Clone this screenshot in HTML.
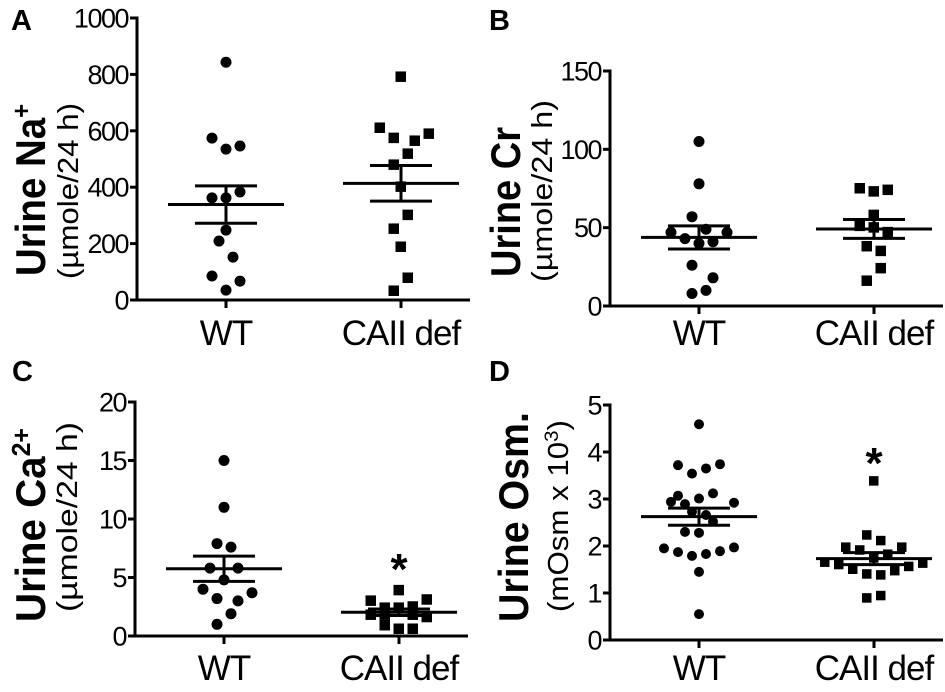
<!DOCTYPE html>
<html><head><meta charset="utf-8"><style>
html,body{margin:0;padding:0;background:#fff;}
svg{display:block;font-family:"Liberation Sans",Arial,sans-serif;}
</style></head><body>
<svg id="fig" width="945" height="692" viewBox="0 0 945 692"></svg>
<script>
const categories = ["WT", "CAII def"];
// Panel A: Urine Na+
const naWT = [843,574,546,535,362,362,383,248,209,152,85,67,35];
const naWTJit = [0,-2,2,0,-2,0,2,0,-1,1,-2,2,0];
const naCA = [791,610,574,564,589,518,479,401,301,252,188,78,32];
const naCAJit = [0,-3,-1,2,4,1,-1,0,1,-1,0,1,-1];
const naTicks = [0,200,400,600,800,1000];
// Panel B: Urine Cr
const crWT = [105,78,57,47,49,47,43,40,41,26,18,10,8];
const crWTJit = [0,0,-1,-4,1,4,-2,0,2,-1,2,1,-1];
const crCA = [75,73,74,58,51,47,38,35,24,16,50];
const crCAJit = [-2,0,2,0,-2,2,-1,1,1,-1,0];
const crTicks = [0,50,100,150];
// Panel C: Urine Ca2+
const caWT = [15,11,7.9,7.6,5.8,5.8,4.8,4.0,3.7,3.2,3.0,1.9,1.0];
const caWTJit = [0,0,-1,1,-2,2,0,-3,4,-1,2,1,-1];
const caCA = [3.9,3.0,3.1,2.4,2.4,2.5,1.8,1.6,0.9,0.6,0.6,1.8,1.8];
const caCAJit = [0,-4,4,-2,0,2,-4,4,-2,0,2,2,-2];
const caTicks = [0,5,10,15,20];
// Panel D: Urine Osm
const osWT = [4.59,3.72,3.74,3.65,3.54,3.07,3.12,3.01,2.94,2.92,2.89,2.66,2.73,2.52,2.30,2.28,1.95,1.87,1.79,1.83,1.89,1.97,1.45,0.55];
const osWTJit = [0,-3,3,1,-1,-3,2,0,-4,5,-2,1,-1,2,-2,0,-5,-3,-1,1,3,5,0,0];
const osCA = [3.38,2.23,2.11,1.97,1.91,1.97,1.82,1.74,1.65,1.60,1.50,1.40,1.38,1.47,1.56,1.63,0.89,0.94];
const osCAJit = [0,-1,1,-4,-2,4,2,0,-7,-5,-3,-1,1,3,5,7,-1,1];
const osTicks = [0,1,2,3,4,5];

const NS = "http://www.w3.org/2000/svg";
const svg = document.getElementById("fig");
function mk(tag, attrs, parent, text){
  const e = document.createElementNS(NS, tag);
  for (const k in attrs) e.setAttribute(k, attrs[k]);
  if (text !== undefined) e.textContent = text;
  (parent || svg).appendChild(e);
  return e;
}
function stats(a){
  const n=a.length, m=a.reduce((s,v)=>s+v,0)/n;
  const sd=Math.sqrt(a.reduce((s,v)=>s+(v-m)*(v-m),0)/(n-1));
  return [m, sd/Math.sqrt(n)];
}
function panel(o){
  const g = mk("g", {});
  
  
  const y = v => o.y0 - (v/o.max)*(o.y0-o.yTop);
  const xc = [o.ax+89, o.ax+264];
  const L = mk("text", {x:o.lx, y:o.ly, "font-size":29, "font-weight":"bold"}, g, o.letter);
  
  
  const ya = mk("line", {x1:o.ax, y1:o.yTop-1.5, x2:o.ax, y2:o.y0+1.5, stroke:"#000","stroke-width":3}, g);
  
  
  const xa = mk("line", {x1:o.ax-7, y1:o.y0, x2:o.ax+333, y2:o.y0, stroke:"#000","stroke-width":3}, g);
  
  
  o.ticks.forEach(t=>{
    mk("line",{x1:o.ax-7,y1:y(t),x2:o.ax,y2:y(t),stroke:"#000","stroke-width":3},g);
    const tl = mk("text",{x:o.ax-9,y:y(t)+9.5,"font-size":27,"text-anchor":"end","letter-spacing":-1.5},g,String(t));
    
    
  });
  categories.forEach((c,i)=>{
    mk("line",{x1:xc[i],y1:o.y0,x2:xc[i],y2:o.y0+8,stroke:"#000","stroke-width":3},g);
    const cl = mk("text",{x:xc[i],y:o.catY,"font-size":35,"text-anchor":"middle","letter-spacing":-1},g,c);
    
    
  });
  const t1 = mk("text",{x:0,y:0,"font-size":42,"font-weight":"bold","text-anchor":"middle",
    textLength:o.tLen,lengthAdjust:"spacingAndGlyphs",transform:`translate(${o.ax+o.t1x},${o.tc}) rotate(-90)`},g);
  
  
  t1.textContent = o.title;
  if (o.sup){ mk("tspan",{"baseline-shift":"super","font-size":26},t1,o.sup); }
  const t2 = mk("text",{x:0,y:0,"font-size":29,"text-anchor":"middle",
    textLength:o.uLen,lengthAdjust:"spacingAndGlyphs",transform:`translate(${o.ax+o.t2x},${o.uc}) rotate(-90)`},g);
  
  
  t2.textContent = o.units;
  if (o.unitsSup){ mk("tspan",{"baseline-shift":"super","font-size":19},t2,o.unitsSup); mk("tspan",{},t2,")"); }
  [[o.wt,o.wtJ,"circle"],[o.ca,o.caJ,"square"]].forEach((s,i)=>{
    s[0].forEach((v,j)=>{
      const px = xc[i] + s[1][j]*7, py = y(v);
      let m;
      if (s[2]==="circle") m = mk("circle",{cx:px,cy:py,r:o.r,fill:"#000"},g);
      else m = mk("rect",{x:px-o.r,y:py-o.r,width:o.r*2-0.5,height:o.r*2-0.5,fill:"#000"},g);
      
      
    });
    const [mean, sem] = stats(s[0]);
    const ml = mk("line",{x1:xc[i]-58,y1:y(mean),x2:xc[i]+58,y2:y(mean),stroke:"#000","stroke-width":3},g);
    
    
    [mean+sem, mean-sem].forEach(v=>{
      const sl = mk("line",{x1:xc[i]-31,y1:y(v),x2:xc[i]+31,y2:y(v),stroke:"#000","stroke-width":3},g);
      
      
    });
    mk("line",{x1:xc[i],y1:y(mean+sem),x2:xc[i],y2:y(mean-sem),stroke:"#000","stroke-width":3},g);
  });
  if (o.star){
    const st = mk("text",{x:xc[1],y:o.starY,"font-size":44,"font-weight":"bold","text-anchor":"middle"},g,"*");
    
    
  }
}
panel({name:"panel-a-sodium",letter:"A",lx:11,ly:30,ax:137,y0:300,yTop:18,max:1000,ticks:naTicks,catY:345,
  title:"Urine Na",sup:"+",units:"(µmole/24 h)",wt:naWT,wtJ:naWTJit,ca:naCA,caJ:naCAJit,r:5.5,
  t1x:-92,t2x:-59,tc:190,uc:191,tLen:172,uLen:176});
panel({name:"panel-b-creatinine",letter:"B",lx:489,ly:30,ax:610,y0:306,yTop:71,max:150,ticks:crTicks,catY:345,
  title:"Urine Cr",units:"(µmole/24 h)",wt:crWT,wtJ:crWTJit,ca:crCA,caJ:crCAJit,r:5.5,
  t1x:-90,t2x:-58,tc:202,uc:191,tLen:150,uLen:182});
panel({name:"panel-c-calcium",letter:"C",lx:12,ly:381,ax:135,y0:636,yTop:402,max:20,ticks:caTicks,catY:680,
  title:"Urine Ca",sup:"2+",units:"(µmole/24 h)",wt:caWT,wtJ:caWTJit,ca:caCA,caJ:caCAJit,r:5.5,
  t1x:-90,t2x:-58,tc:525,uc:517,tLen:194,uLen:190,star:true,starY:584});
panel({name:"panel-d-osmolality",letter:"D",lx:489,ly:381,ax:610,y0:640,yTop:405,max:5,ticks:osTicks,catY:680,
  title:"Urine Osm.",units:"(mOsm x 10",unitsSup:"3",wt:osWT,wtJ:osWTJit,ca:osCA,caJ:osCAJit,r:5,
  t1x:-82,t2x:-42,tc:517,uc:516,tLen:210,uLen:192,star:true,starY:478});
</script>
</body></html>
